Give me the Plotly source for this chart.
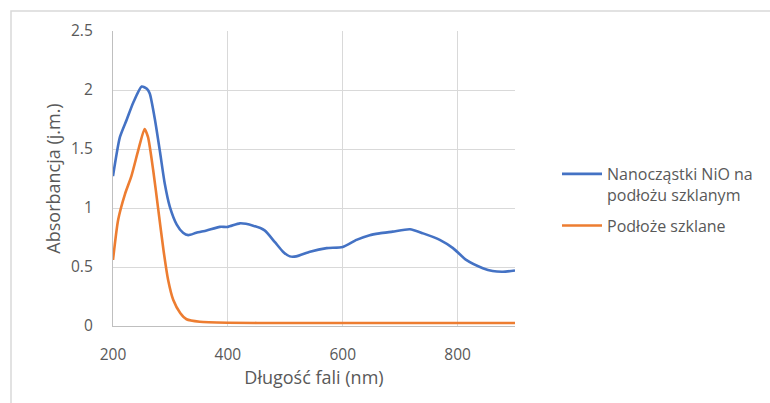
import plotly.graph_objects as go

# Blue series: NiO nanoparticles on glass substrate
nio_wavelength = [200, 212, 224, 235, 250, 259, 264, 273, 282, 290, 299, 311, 322, 331, 345, 363,
                  386, 400, 421, 444, 464, 482, 496, 508, 519, 543, 572, 600, 624, 647, 664,
                  687, 717, 740, 769, 792, 815, 844, 861, 879, 900]
nio_absorbance = [1.27, 1.60, 1.75, 1.89, 2.03, 2.01, 1.97, 1.75, 1.47, 1.21, 1.01, 0.86, 0.79, 0.77, 0.79, 0.81,
                  0.84, 0.84, 0.87, 0.85, 0.81, 0.71, 0.63, 0.59, 0.59, 0.63, 0.66, 0.67, 0.73, 0.77, 0.785,
                  0.80, 0.82, 0.785, 0.73, 0.66, 0.56, 0.49, 0.466, 0.46, 0.47]

# Orange series: bare glass substrate
glass_wavelength = [200, 209, 221, 232, 244, 255, 261, 270, 279, 288, 296, 305, 317, 328, 351,
                    400, 500, 600, 700, 800, 900]
glass_absorbance = [0.56, 0.90, 1.12, 1.27, 1.49, 1.67, 1.60, 1.32, 0.98, 0.64, 0.39, 0.22, 0.11, 0.057, 0.036,
                    0.028, 0.025, 0.025, 0.025, 0.025, 0.025]

series_names = ["Nanocząstki NiO na<br>podłożu szklanym", "Podłoże szklane"]
x_ticks = [200, 400, 600, 800]
y_ticks = [0, 0.5, 1, 1.5, 2, 2.5]
y_tick_labels = ["0", "0.5", "1", "1.5", "2", "2.5"]

FONT = "'Open Sans', Lato, sans-serif"
TXT = "#595959"

fig = go.Figure()
fig.add_trace(go.Scatter(x=nio_wavelength, y=nio_absorbance, mode="lines", name=series_names[0],
                         legendgroup="nio",
                         line=dict(color="#4472C4", width=2.6, shape="spline", smoothing=0.6)))
fig.add_trace(go.Scatter(x=glass_wavelength, y=glass_absorbance, mode="lines", name=series_names[1],
                         legendgroup="glass",
                         line=dict(color="#ED7D31", width=2.6, shape="spline", smoothing=0.6)))

L, R, T, B = 113, 515, 31, 326
W, H = 770, 403
pw, ph = R - L, B - T


def px(xp):
    return (xp - L) / pw


def py(yp):
    return (B - yp) / ph


fig.update_layout(
    width=W, height=H,
    margin=dict(l=L, r=W - R, t=T, b=H - B, pad=0),
    paper_bgcolor="white", plot_bgcolor="white",
    font=dict(family=FONT, color=TXT, size=15),
    showlegend=True,
    legend=dict(x=px(557), y=py(157), xanchor="left", yanchor="top", valign="top",
                font=dict(family=FONT, size=16, color=TXT), traceorder="grouped",
                tracegroupgap=7, itemwidth=40, bgcolor="rgba(0,0,0,0)"),
    xaxis=dict(range=[200, 900], tickvals=x_ticks, showgrid=True, gridcolor="#D9D9D9", gridwidth=1.3,
               zeroline=False, showline=True, linecolor="#BFBFBF", linewidth=1.3,
               ticks="", ticklabelstandoff=14, tickfont=dict(size=15.5, color=TXT),
               title=dict(text="Długość fali (nm)", font=dict(size=18, color=TXT), standoff=3)),
    yaxis=dict(range=[0, 2.5], tickvals=y_ticks, ticktext=y_tick_labels, showgrid=True,
               gridcolor="#D9D9D9", gridwidth=1.3, zeroline=False, showline=True,
               linecolor="#BFBFBF", linewidth=1.3, ticks="", ticklabelstandoff=16,
               tickfont=dict(size=15.5, color=TXT),
               title=dict(text="Absorbancja (j.m.)", font=dict(size=18, color=TXT), standoff=5)),
)

# outer chart-area border (only top and left edges visible in the reference)
fig.add_shape(type="rect", xref="paper", yref="paper",
              x0=px(11), x1=px(800), y0=py(430), y1=py(11),
              line=dict(color="#D9D9D9", width=1.5), fillcolor="rgba(0,0,0,0)", layer="below")

fig.write_html("out.html", config={"displayModeBar": False},
               post_script="document.body.style.margin='0';document.documentElement.style.margin='0';")
